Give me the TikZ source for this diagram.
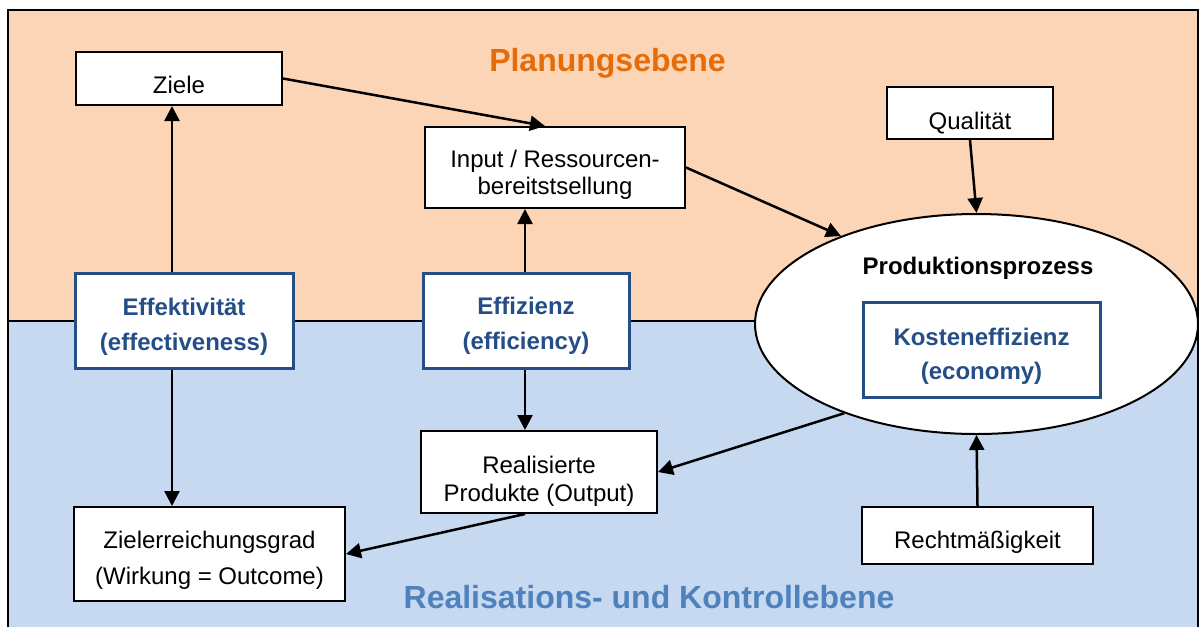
\documentclass[tikz,border=0pt]{standalone}
\usepackage{fontspec}
\setmainfont{Liberation Sans}
\usetikzlibrary{shapes.geometric,arrows.meta,calc}
\definecolor{bgorange}{HTML}{FBD5B5}
\definecolor{bgblue}{HTML}{C6D9F0}
\definecolor{titleorange}{HTML}{E46C0A}
\definecolor{titleblue}{HTML}{4F81BD}
\definecolor{boxblue}{HTML}{254E87}
\begin{document}
\begin{tikzpicture}[x=1pt,y=-1pt,
  plainbox/.style={draw=black,line width=2pt,fill=white,inner sep=0pt,align=center},
  bluebox/.style={draw=boxblue,line width=3pt,fill=white,inner sep=0pt,align=center,text=boxblue},
  arr/.style={line width=2.5pt,-{Triangle[length=15pt,width=15pt]}},
  title/.style={anchor=base,inner sep=0pt,font=\bfseries\fontsize{32}{38}\selectfont}
]
\useasboundingbox (0,0) rectangle (1201,627);
% backgrounds
\fill[bgorange] (8,10) rectangle (1198,321);
\fill[bgblue] (8,321) rectangle (1198,627);
\draw[line width=2.5pt] (8,321) -- (1198,321);
\draw[line width=2.5pt] (8,627) -- (8,10) -- (1198,10) -- (1198,627);
% titles
\node[title,text=titleorange] (plan) at (607.5,71.7) {Planungsebene};
\node[title,text=titleblue] (real2) at (649,608) {Realisations- und Kontrollebene};
% plain boxes
\node[plainbox,minimum width=206pt,minimum height=53pt,font=\fontsize{24}{28}\selectfont] (ziele) at (179,78.5) {\rule[-6pt]{0pt}{41pt}Ziele};
\node[plainbox,minimum width=166pt,minimum height=52pt,font=\fontsize{24}{28}\selectfont] (qual) at (970,113) {\rule[-6pt]{0pt}{44.7pt}Qualität};
\node[plainbox,minimum width=260pt,minimum height=81pt,font=\fontsize{24}{27}\selectfont] (inp) at (555,167.5) {\rule{0pt}{32pt}Input / Ressourcen-\\bereitstsellung\rule[-6pt]{0pt}{6pt}};
\node[plainbox,minimum width=236pt,minimum height=82pt,font=\fontsize{24}{28}\selectfont] (real) at (539,472) {\rule{0pt}{36pt}Realisierte\\Produkte (Output)\rule[-6pt]{0pt}{6pt}};
\node[plainbox,minimum width=271pt,minimum height=94pt,font=\fontsize{24}{36}\selectfont] (ziel) at (209.5,554) {\rule{0pt}{30.6pt}Zielerreichungsgrad\\(Wirkung = Outcome)\rule[-6pt]{0pt}{6pt}};
\node[plainbox,minimum width=231pt,minimum height=57pt,font=\fontsize{24}{28}\selectfont] (recht) at (977.5,535.5) {\rule[-6pt]{0pt}{37.6pt}Rechtmäßigkeit};
% blue boxes
\node[bluebox,minimum width=218pt,minimum height=95pt,font=\bfseries\fontsize{24}{35.5}\selectfont] (effek) at (184,320.5) {\rule{0pt}{30.5pt}Effektivität\\(effectiveness)\rule[-6pt]{0pt}{6pt}};
\node[bluebox,minimum width=206pt,minimum height=95pt,font=\bfseries\fontsize{24}{35.5}\selectfont] (effiz) at (526,320.5) {\rule{0pt}{29.1pt}Effizienz\\(efficiency)\rule[-6pt]{0pt}{6pt}};
% ellipse
\node[ellipse,draw=black,line width=2pt,fill=white,minimum width=443pt,minimum height=220pt,inner sep=0pt] (prod) at (976.5,324) {};
\node[anchor=base,inner sep=0pt,font=\bfseries\fontsize{24}{28}\selectfont] (prodlabel) at (978,274) {Produktionsprozess};
\node[bluebox,minimum width=237pt,minimum height=95pt,font=\bfseries\fontsize{24}{34}\selectfont] (kost) at (981.5,349.5) {\rule{0pt}{31pt}Kosteneffizienz\\(economy)\rule[-6pt]{0pt}{6pt}};
% arrows
\coordinate (xA) at (172,0);
\coordinate (xB) at (525,0);
\draw[arr] (effek.north -| xA) -- (ziele.south -| xA);
\draw[arr] (effek.south -| xA) -- (ziel.north -| xA);
\draw[arr] (ziele.east) -- ($(inp.north)+(-10,0)$);
\draw[arr] (inp.east) -- (prod.147);
\draw[arr] (qual.south) -- (prod.north);
\draw[arr] (effiz.north -| xB) -- (inp.south -| xB);
\draw[arr] (effiz.south -| xB) -- (real.north -| xB);
\draw[arr] (prod.214) -- (real.east);
\draw[arr] ($(real.south)+(-14,0)$) -- (ziel.east);
\draw[arr] (recht.north) -- (prod.south);
\end{tikzpicture}
\end{document}
